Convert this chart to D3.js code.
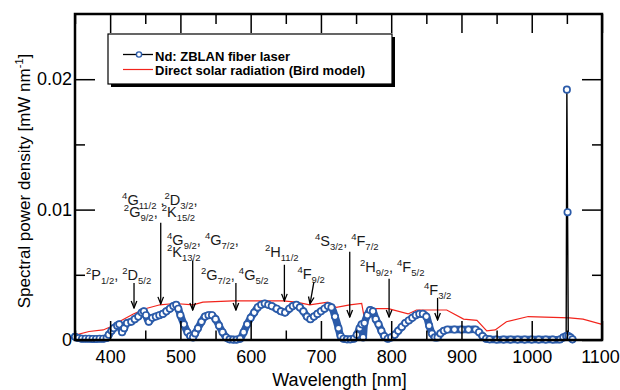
<!DOCTYPE html>
<html>
<head>
<meta charset="utf-8">
<script src="https://cdn.jsdelivr.net/npm/d3@7/dist/d3.min.js"></script>
<style>
  body { margin: 0; background: #fff; }
  text { font-family: Arial, "Liberation Sans", sans-serif; white-space: pre; }
</style>
</head>
<body>
<div class="chart-box"></div>
<script>
// laser spectrum (nm, mW/nm)
var laserWl = [350,355,360,365,370,375,380,385,390,395,398,402,405,410,413,417,420,424,430,435,440,445,448,451,455,460,465,470,475,480,485,490,494,497,500,505,510,514,518,521,525,530,535,540,545,550,555,560,565,570,575,580,585,590,595,600,605,610,615,620,625,630,637,643,649,655,660,665,670,675,680,685,690,695,700,705,710,715,720,725,728,732,737,742,747,751,755,758,760,762,766,770,774,778,782,786,790,795,800,805,810,815,820,825,830,835,840,845,850,854,858,862,866,870,875,880,890,900,910,920,925,930,935,940,950,960,970,980,990,1000,1010,1020,1030,1040,1045,1049,1050,1051,1052,1055,1058];
var laserVal = [0.00025,0.00015,0.0001,0.0001,0.0001,0.00008,0.00008,0.0001,0.0001,0.00015,0.0004,0.0007,0.0009,0.0011,0.0012,0.0006,0.0009,0.0013,0.0014,0.0016,0.0018,0.0021,0.0022,0.0019,0.0014,0.0017,0.0018,0.0019,0.002,0.0022,0.0024,0.0026,0.0027,0.0024,0.0019,0.0012,0.0006,0.0003,0.0002,0.0005,0.0009,0.0014,0.0018,0.0019,0.0019,0.0016,0.0011,0.0006,0.0002,0.00005,0.00003,0.00003,0.0001,0.0006,0.0012,0.0017,0.0021,0.0025,0.0027,0.0028,0.0027,0.0026,0.0024,0.0022,0.0021,0.0024,0.0026,0.0027,0.0025,0.0022,0.0018,0.0016,0.0018,0.002,0.0022,0.0024,0.0026,0.0025,0.0018,0.0009,0.0003,0.0001,0.00005,0.00005,0.0001,0.0004,0.0009,0.0012,0.0002,0.0013,0.0019,0.0023,0.0022,0.0016,0.0012,0.0007,0.0003,0.0001,0.0002,0.0004,0.0007,0.001,0.0013,0.0015,0.0017,0.0019,0.002,0.002,0.0018,0.0011,0.0005,0.0002,0.0002,0.0005,0.0007,0.0008,0.0008,0.0008,0.0008,0.0008,0.0006,0.0003,0.0001,0.00005,0.00003,0.00003,0.00003,0.00003,0.00003,0.00003,0.00003,0.00003,0.00003,0.00004,0.0002,0.0003,0.0192,0.0098,0.0003,0.0002,0.00005];

// direct solar radiation, Bird model
var solarWl = [350,370,390,400,416,433,450,471,492,518,532,575,613,646,665,684,710,722,741,758,762,767,779,796,824,836,879,903,922,936,948,964,995,1054,1073,1100];
var solarVal = [0.00038,0.00065,0.00077,0.001,0.0015,0.002,0.0024,0.0027,0.0028,0.0027,0.0029,0.003,0.003,0.003,0.0029,0.0027,0.0029,0.0025,0.0027,0.0028,0.0016,0.0023,0.0024,0.0024,0.002,0.0023,0.0023,0.0016,0.0015,0.0007,0.00077,0.0014,0.0018,0.0017,0.0016,0.0012];

var xMajor = [400,500,600,700,800,900,1000,1100];
var xMinor = [350,450,550,650,750,850,950,1050];
var yMajor = [0,0.01,0.02];
var yMinor = [0.005,0.015];
var yLabels = ["0","0.01","0.02"];

// transition labels: arrow wavelength, arrow tip/top values, label anchor
var notes = [
  { wl: 434, tip: 0.00246, top: 0.00438, lx: 365.7, ly: 0.00462, lines: ["^2P_1/2, ^2D_5/2"] },
  { wl: 472, tip: 0.00277, top: 0.0090, lx: 417, ly: 0.01038, lines: ["^4G_11/2 ,^2D_3/2,", "^2G_9/2, ^2K_15/2"], lx2: 419.5 },
  { wl: 517.5, tip: 0.0023, top: 0.0061, lx: 481, ly: 0.00731, lines: ["^4G_9/2, ^4G_7/2,", "^2K_13/2"] },
  { wl: 579, tip: 0.0023, top: 0.00438, lx: 529.3, ly: 0.00462, lines: ["^2G_7/2, ^4G_5/2"] },
  { wl: 648, tip: 0.0030, top: 0.00577, lx: 620.4, ly: 0.00638, lines: ["^2H_11/2"] },
  { wl: 684.5, wlTop: 690, tip: 0.00277, top: 0.00446, lx: 666.6, ly: 0.00469, lines: ["^4F_9/2"] },
  { wl: 741, tip: 0.00177, top: 0.00677, lx: 691.5, ly: 0.00723, lines: ["^4S_3/2, ^4F_7/2"] },
  { wl: 797, tip: 0.00177, top: 0.0047, lx: 755.6, ly: 0.00523, lines: ["^2H_9/2, ^4F_5/2"] },
  { wl: 866, tip: 0.00154, top: 0.00323, lx: 846.7, ly: 0.00346, lines: ["^4F_3/2"] }
];

var width = 620, height = 390;
var pL = 75, pR = 602, pT = 14, pB = 340;
var blue = "#2b5ba9";

var svg = d3.select(".chart-box").append("svg")
    .attr("width", width)
    .attr("height", height);

var x = d3.scaleLinear().domain([350, 1100]).range([pL, pR]);
var y = d3.scaleLinear().domain([0, 0.025]).range([pB, pT]);

var defs = svg.append("defs");
defs.append("marker")
    .attr("id", "arr")
    .attr("markerUnits", "userSpaceOnUse")
    .attr("viewBox", "-8 -4 9 8")
    .attr("refX", 0).attr("refY", 0)
    .attr("markerWidth", 9).attr("markerHeight", 8)
    .attr("orient", "auto")
  .append("path")
    .attr("d", "M-7,-2.8L0,0L-7,2.8")
    .attr("fill", "none")
    .attr("stroke", "#000")
    .attr("stroke-width", 1.3);

defs.append("clipPath").attr("id", "plot")
  .append("rect").attr("x", pL).attr("y", pT)
    .attr("width", pR - pL).attr("height", pB - pT);

// solar line
var solar = solarWl.map(function(d, i) { return [d, solarVal[i]]; });
svg.append("path")
    .datum(solar)
    .attr("clip-path", "url(#plot)")
    .attr("fill", "none")
    .attr("stroke", "#f2241c")
    .attr("stroke-width", 1.2)
    .attr("d", d3.line().x(function(d) { return x(d[0]); }).y(function(d) { return y(d[1]); }));

// laser spectrum
var laser = laserWl.map(function(d, i) { return [d, laserVal[i]]; });
svg.append("path")
    .datum(laser)
    .attr("fill", "none")
    .attr("stroke", "#000")
    .attr("stroke-width", 1.4)
    .attr("d", d3.line().x(function(d) { return x(d[0]); }).y(function(d) { return y(d[1]); }));

svg.append("path")
    .datum(laser.filter(function(d) { return d[1] < 0.005; }))
    .attr("fill", "none")
    .attr("stroke", blue)
    .attr("stroke-width", 7.5)
    .attr("stroke-linejoin", "round")
    .attr("stroke-linecap", "round")
    .attr("d", d3.line().curve(d3.curveCatmullRom)
        .x(function(d) { return x(d[0]); }).y(function(d) { return y(d[1]); }));

svg.append("g").selectAll("circle")
    .data(laser)
    .enter().append("circle")
      .attr("cx", function(d) { return x(d[0]); })
      .attr("cy", function(d) { return y(d[1]); })
      .attr("r", 3.2)
      .attr("fill", "#fff")
      .attr("stroke", blue)
      .attr("stroke-width", 1.7);

// frame & ticks
function styleAxis(g) {
  g.select(".domain").remove();
  g.selectAll(".tick line").attr("stroke", "#000").attr("stroke-width", 1.5);
  g.selectAll("text").attr("font-size", 18).attr("fill", "#000")
    .attr("font-family", "Arial, 'Liberation Sans', sans-serif");
}

svg.append("g").attr("transform", "translate(0," + pB + ")")
    .call(d3.axisBottom(x).tickValues(xMajor).tickSize(-19).tickPadding(10).tickFormat(d3.format("d")))
    .call(styleAxis)
    .selectAll(".tick text")
      .attr("dx", function(d) { return d == 1100 ? -2 : 0; });
svg.append("g").attr("transform", "translate(0," + pB + ")")
    .call(d3.axisBottom(x).tickValues(xMinor).tickSize(-9.5).tickFormat(""))
    .call(styleAxis);
svg.append("g").attr("transform", "translate(0," + pT + ")")
    .call(d3.axisTop(x).tickValues(xMajor).tickSize(-19).tickFormat(""))
    .call(styleAxis);
svg.append("g").attr("transform", "translate(0," + pT + ")")
    .call(d3.axisTop(x).tickValues(xMinor).tickSize(-10).tickFormat(""))
    .call(styleAxis);

svg.append("g").attr("transform", "translate(" + pL + ",0)")
    .call(d3.axisLeft(y).tickValues(yMajor).tickSize(-20).tickPadding(3)
      .tickFormat(function(d, i) { return yLabels[i]; }))
    .call(styleAxis);
svg.append("g").attr("transform", "translate(" + pL + ",0)")
    .call(d3.axisLeft(y).tickValues(yMinor).tickSize(-10).tickFormat(""))
    .call(styleAxis);
svg.append("g").attr("transform", "translate(" + pR + ",0)")
    .call(d3.axisRight(y).tickValues(yMajor).tickSize(-20).tickFormat(""))
    .call(styleAxis);
svg.append("g").attr("transform", "translate(" + pR + ",0)")
    .call(d3.axisRight(y).tickValues(yMinor).tickSize(-10).tickFormat(""))
    .call(styleAxis);

svg.append("rect")
    .attr("x", pL).attr("y", pT)
    .attr("width", pR - pL).attr("height", pB - pT)
    .attr("fill", "none").attr("stroke", "#000").attr("stroke-width", 2.5);

// axis titles
svg.append("text")
    .attr("x", (pL + pR) / 2 + 1).attr("y", 386)
    .attr("text-anchor", "middle").attr("font-size", 18)
    .text("Wavelength [nm]");

var yt = svg.append("text")
    .attr("transform", "translate(30,181) rotate(-90)")
    .attr("text-anchor", "middle").attr("font-size", 17);
yt.append("tspan").text("Spectral power density [mW nm");
yt.append("tspan").attr("dy", -7).attr("font-size", 11).text("-1");
yt.append("tspan").attr("dy", 7).text("]");

// annotations
function richText(t, str) {
  var parts = str.match(/(\^[0-9]+|_[0-9\/]+|[^\^_]+)/g);
  var cur = 0;
  parts.forEach(function(p) {
    var shift = 0, size = 14.5, s = p;
    if (p[0] == "^") { shift = -6; size = 9.5; s = p.slice(1); }
    else if (p[0] == "_") { shift = 4; size = 9.5; s = p.slice(1); }
    t.append("tspan").attr("dy", shift - cur).attr("font-size", size).text(s);
    cur = shift;
  });
}

var ann = svg.append("g");
notes.forEach(function(n) {
  ann.append("line")
      .attr("x1", x(n.wlTop || n.wl)).attr("y1", y(n.top))
      .attr("x2", x(n.wl)).attr("y2", y(n.tip))
      .attr("stroke", "#000").attr("stroke-width", 1.3)
      .attr("marker-end", "url(#arr)");
  n.lines.forEach(function(line, i) {
    var t = ann.append("text")
        .attr("x", x(i && n.lx2 ? n.lx2 : n.lx))
        .attr("y", y(n.ly) + i * 12.5)
        .attr("fill", "#1a1a1a");
    richText(t, line);
  });
});

// legend
var lg = svg.append("g").attr("transform", "translate(108,34)");
lg.append("rect").attr("x", 3).attr("y", 3).attr("width", 284).attr("height", 50).attr("fill", "#000");
lg.append("rect").attr("width", 284).attr("height", 50)
    .attr("fill", "#fff").attr("stroke", "#000").attr("stroke-width", 1.2);
lg.append("line").attr("x1", 15).attr("x2", 45).attr("y1", 20.5).attr("y2", 20.5)
    .attr("stroke", "#000").attr("stroke-width", 1.3);
lg.append("circle").attr("cx", 31).attr("cy", 20.5).attr("r", 2.6)
    .attr("fill", "#fff").attr("stroke", blue).attr("stroke-width", 1.4);
lg.append("line").attr("x1", 15).attr("x2", 45).attr("y1", 35.5).attr("y2", 35.5)
    .attr("stroke", "#f2241c").attr("stroke-width", 1.2);
lg.append("text").attr("x", 47).attr("y", 26.5).attr("font-size", 13).attr("font-weight", "bold")
    .text("Nd: ZBLAN fiber laser");
lg.append("text").attr("x", 47).attr("y", 41).attr("font-size", 13).attr("font-weight", "bold")
    .text("Direct solar radiation (Bird model)");
</script>
</body>
</html>
